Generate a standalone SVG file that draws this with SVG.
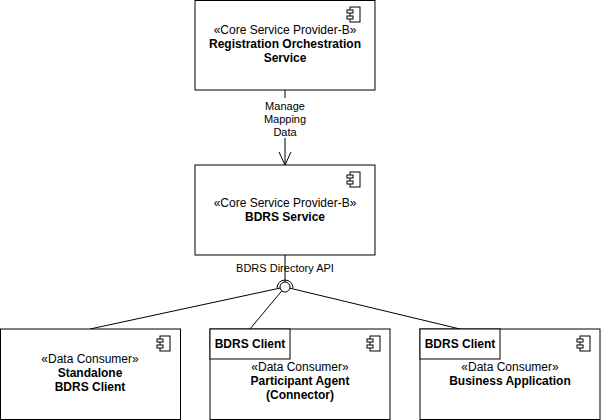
<svg xmlns="http://www.w3.org/2000/svg" width="601" height="420" viewBox="0 0 601 420">
<style>
.b{fill:#fff;stroke:#000;stroke-width:1}
text{font-family:"Liberation Sans",Arial,sans-serif;font-size:12px;fill:#000;text-anchor:middle}
.bd{font-weight:bold}
.l{font-size:11px}
.c{fill:none;stroke:#000;stroke-width:1}
</style>
<defs>
<g id="ic"><rect x="0" y="0" width="10" height="15" class="b"/><rect x="-3" y="3" width="6" height="3" class="b"/><rect x="-3" y="9" width="6" height="3" class="b"/></g>
</defs>
<g id="connectors">
<line x1="285" y1="90" x2="285" y2="164" class="c"/>
<path d="M279,152 L285,165 L291,152" class="c"/>
<rect x="262" y="98" width="46" height="40" fill="#fff"/>
<text class="l" x="285" y="110">Manage</text>
<text class="l" x="285" y="123">Mapping</text>
<text class="l" x="285" y="136">Data</text>
<line x1="285" y1="255" x2="285" y2="282" class="c"/>
<line x1="285" y1="287" x2="90" y2="329" class="c"/>
<line x1="285" y1="287" x2="250" y2="329" class="c"/>
<line x1="285" y1="287" x2="460" y2="329" class="c"/>
<path d="M277,288 A8,8 0 0 1 293,288" class="c"/>
<circle cx="285" cy="287" r="5" class="b" stroke-width="1.5"/>
<text class="l" x="285" y="272">BDRS Directory API</text>
</g>
<g id="ros"><rect x="195" y="0.5" width="180" height="89.5" class="b"/><use href="#ic" x="350" y="7"/>
<text x="285" y="34">«Core Service Provider-B»</text><text class="bd" x="285" y="48">Registration Orchestration</text><text class="bd" x="285" y="62">Service</text></g>
<g id="bdrs"><rect x="195" y="165" width="180" height="90" class="b"/><use href="#ic" x="350" y="172"/>
<text x="285" y="207">«Core Service Provider-B»</text><text class="bd" x="285" y="221">BDRS Service</text></g>
<g id="standalone"><rect x="0.5" y="329" width="180" height="90.5" class="b"/><use href="#ic" x="160" y="336"/>
<text x="90" y="363">«Data Consumer»</text><text class="bd" x="90" y="377">Standalone</text><text class="bd" x="90" y="391">BDRS Client</text></g>
<g id="agent"><rect x="210" y="329" width="180" height="90.5" class="b"/><rect x="210" y="329" width="80" height="30" class="b"/><use href="#ic" x="370" y="336"/>
<text class="bd" x="250" y="348">BDRS Client</text>
<text x="300" y="371">«Data Consumer»</text><text class="bd" x="300" y="385">Participant Agent</text><text class="bd" x="300" y="399">(Connector)</text></g>
<g id="bizapp"><rect x="420" y="329" width="180" height="90.5" class="b"/><rect x="420" y="329" width="80" height="30" class="b"/><use href="#ic" x="580" y="336"/>
<text class="bd" x="460" y="348">BDRS Client</text>
<text x="510" y="371">«Data Consumer»</text><text class="bd" x="510" y="385">Business Application</text></g>
</svg>
